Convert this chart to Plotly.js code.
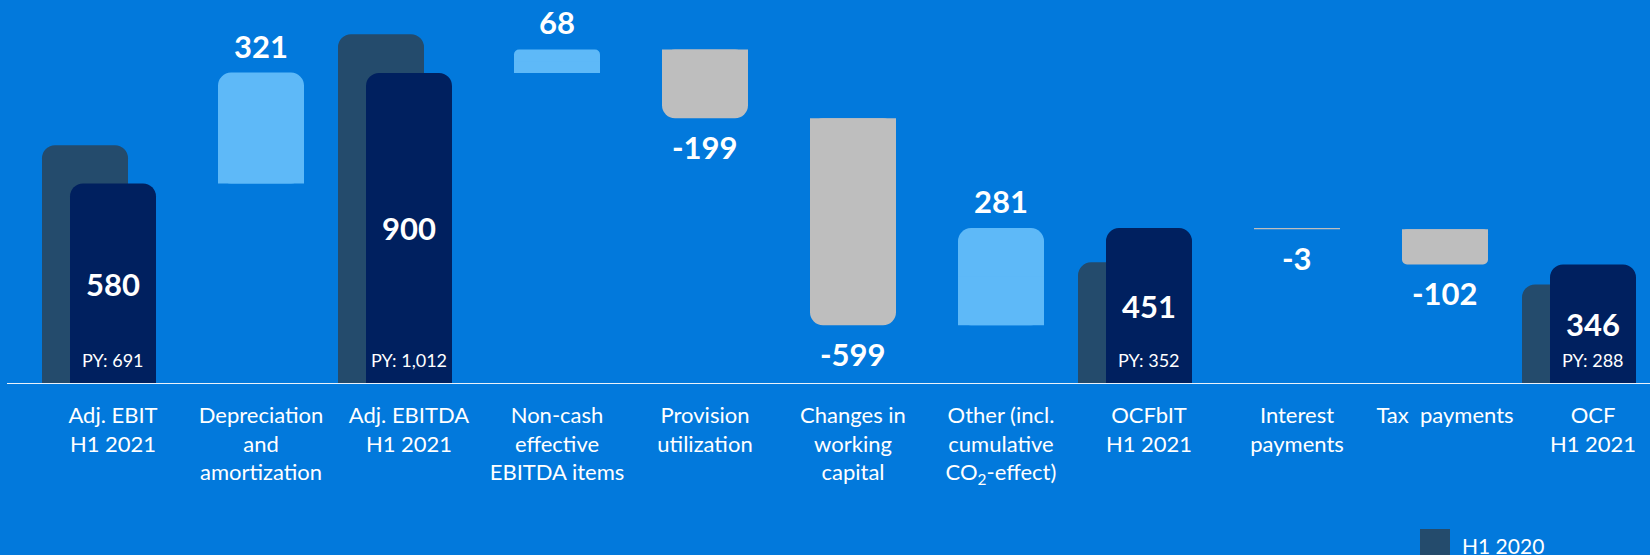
<!DOCTYPE html>
<html>
<head>
<meta charset="utf-8">
<script src="https://cdn.plot.ly/plotly-3.0.1.min.js"></script>
<style>
html, body { margin: 0; padding: 0; background: #0279DC; }
#chart { width: 1650px; height: 555px; }
</style>
</head>
<body>
<div id="chart"></div>
<script>
// ---- Data ----
const categories = [
  'Adj. EBIT<br>H1 2021',
  'Depreciation<br>and<br>amortization',
  'Adj. EBITDA<br>H1 2021',
  'Non-cash<br>effective<br>EBITDA items',
  'Provision<br>utilization',
  'Changes in<br>working<br>capital',
  'Other (incl.<br>cumulative<br>CO<sub>2</sub>-effect)',
  'OCFbIT<br>H1 2021',
  'Interest<br>payments',
  'Tax\u00A0 payments',
  'OCF<br>H1 2021'
];
const totalsH1_2021 = [580, null, 900, null, null, null, null, 451, null, null, 346];
const totalsH1_2020 = [691, null, 1012, null, null, null, null, 352, null, null, 288];
const deltas = [null, 321, null, 68, -199, -599, 281, null, -3, -102, null];
const unitLabel = '€m';
const legendLabel = 'H1 2020';

// ---- Styles ----
const BG = '#0279DC';
const C_CY = '#00205F';
const C_PY = '#244B6C';
const C_UP = '#5EB9F8';
const C_DOWN = '#BEBEBE';
const FONT = 'Lato, "Open Sans", sans-serif';
const PX_PER_CAT = 148;          // pixel pitch of categories
const FIRST_CENTER_PX = 113;     // pixel centre of first category
const BAR_W = 86 / PX_PER_CAT;   // bar width in category units
const PY_SHIFT = 28 / PX_PER_CAT;

// running totals for waterfall bases
const bases = [];
let running = 0;
for (let i = 0; i < categories.length; i++) {
  if (totalsH1_2021[i] !== null) { running = totalsH1_2021[i]; bases.push(null); }
  else { bases.push(running); running += deltas[i]; }
}

const traces = [];
traces.push({
  type: 'bar', x: categories, y: totalsH1_2020, name: legendLabel,
  width: BAR_W, offset: -BAR_W / 2 - PY_SHIFT,
  marker: { color: C_PY, cornerradius: 13 }, hoverinfo: 'skip', showlegend: false
});
traces.push({
  type: 'bar', x: categories, y: totalsH1_2021, name: 'H1 2021',
  width: BAR_W, offset: -BAR_W / 2,
  marker: { color: C_CY, cornerradius: 13 }, hoverinfo: 'skip', showlegend: false
});
// waterfall delta bars: a rounded bar, plus a square bar over its near half
for (let i = 0; i < categories.length; i++) {
  if (deltas[i] === null) continue;
  const absV = Math.abs(deltas[i]);
  const col = deltas[i] >= 0 ? C_UP : C_DOWN;
  traces.push({
    type: 'bar', x: [categories[i]], y: [deltas[i]], base: [bases[i]],
    width: BAR_W, offset: -BAR_W / 2,
    marker: { color: col, cornerradius: absV > 150 ? 13 : (absV > 20 ? 5 : 0), line: { width: 0 } },
    hoverinfo: 'skip', showlegend: false
  });
  if (absV > 20) {
    traces.push({
      type: 'bar', x: [categories[i]], y: [deltas[i] / 2], base: [bases[i]],
      width: BAR_W, offset: -BAR_W / 2,
      marker: { color: col, line: { width: 0 } },
      hoverinfo: 'skip', showlegend: false
    });
  }
}

const annotations = [];
const fmt = v => v.toLocaleString('en-US');
for (let i = 0; i < categories.length; i++) {
  if (totalsH1_2021[i] !== null) {
    annotations.push({
      x: categories[i], y: totalsH1_2021[i] / 2, xref: 'x', yref: 'y',
      text: '<b>' + totalsH1_2021[i] + '</b>', showarrow: false,
      font: { family: FONT, size: 31, color: '#FFFFFF' }, yanchor: 'middle'
    });
    annotations.push({
      x: categories[i], y: 0, xref: 'x', yref: 'y',
      text: 'PY: ' + fmt(totalsH1_2020[i]), showarrow: false,
      font: { family: FONT, size: 18, color: '#FFFFFF' }, yanchor: 'bottom', yshift: 11
    });
  } else {
    const v = deltas[i];
    const top = bases[i] + Math.max(v, 0);
    const bottom = bases[i] + Math.min(v, 0);
    annotations.push({
      x: categories[i], y: v >= 0 ? top : bottom, xref: 'x', yref: 'y',
      text: '<b>' + v + '</b>', showarrow: false,
      font: { family: FONT, size: 31, color: '#FFFFFF' },
      yanchor: v >= 0 ? 'bottom' : 'top', yshift: v >= 0 ? 6 : -8
    });
  }
}
// unit label (cut off at the top in the original)
annotations.push({
  x: 40 / 1650, y: 1.008, xref: 'paper', yref: 'paper', xanchor: 'left', yanchor: 'bottom',
  text: unitLabel, showarrow: false, font: { family: FONT, size: 21, color: '#FFFFFF' }
});
// legend text
annotations.push({
  x: 1460 / 1650, y: (384 - 545) / 384, xref: 'paper', yref: 'paper', xanchor: 'left', yanchor: 'middle',
  text: legendLabel, showarrow: false, font: { family: FONT, size: 21, color: '#FFFFFF' }
});

const shapes = [
  { type: 'line', xref: 'paper', yref: 'y', x0: 7 / 1650, x1: 1, y0: 0, y1: 0,
    line: { color: '#EAF2FB', width: 2 }, layer: 'above' },
  { type: 'rect', xref: 'paper', yref: 'paper',
    x0: 1420 / 1650, x1: 1450 / 1650, y0: (384 - 529) / 384, y1: (384 - 565) / 384,
    fillcolor: C_PY, line: { width: 0 } }
];

const layout = {
  width: 1650, height: 555,
  margin: { l: 0, r: 0, t: 0, b: 171, pad: 0 },
  paper_bgcolor: BG, plot_bgcolor: BG,
  barmode: 'overlay',
  showlegend: false,
  xaxis: {
    type: 'category',
    range: [-FIRST_CENTER_PX / PX_PER_CAT, (1650 - FIRST_CENTER_PX) / PX_PER_CAT],
    fixedrange: true,
    showgrid: false, zeroline: false, showline: false, ticks: '',
    tickfont: { family: FONT, size: 22, color: '#FFFFFF' },
    ticklabelstandoff: 16
  },
  yaxis: {
    range: [0, 1111], visible: false, showgrid: false, zeroline: false, fixedrange: true
  },
  annotations: annotations,
  shapes: shapes,
  font: { family: FONT, color: '#FFFFFF' }
};

Plotly.newPlot('chart', traces, layout, { displayModeBar: false, staticPlot: true });
</script>
</body>
</html>
